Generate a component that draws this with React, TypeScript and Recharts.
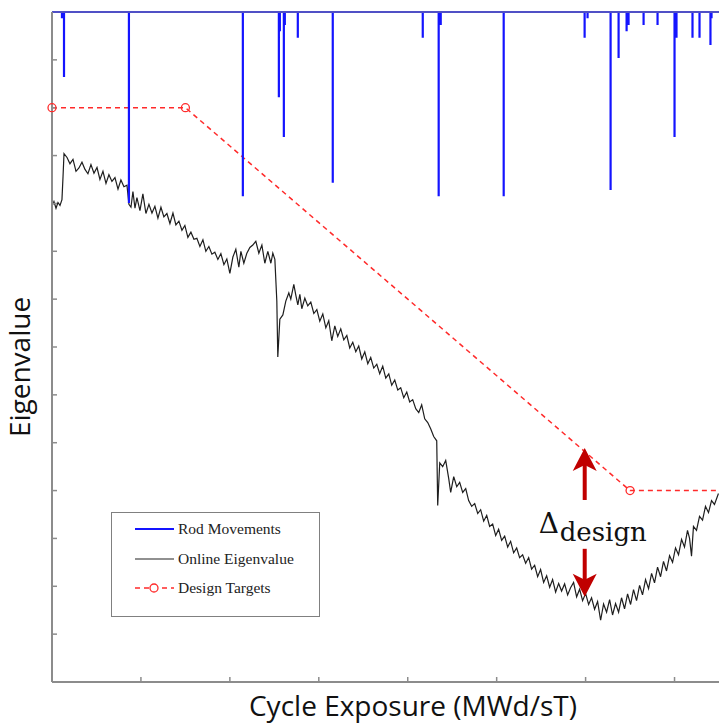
import React from 'react';
import { ComposedChart, Line, XAxis, YAxis, Legend, ReferenceLine, Label } from 'recharts';

// axis ticks (no labels in the original figure)
const exposureTicks = [1, 2, 3, 4, 5, 6, 7];
const eigenTicks = [1, 2, 3, 4, 5, 6, 7, 8, 9, 10, 11, 12, 13];

// design targets
const designExposure = [0, 1.5, 6.5, 7.5];
const designTarget = [12, 12, 4, 4];

// rod movements: position and how far each spike hangs down from the top
const rodTop = 14;
const rodExposure = [0.112, 0.135, 0.865, 2.146, 2.551, 2.562, 2.607, 2.618, 2.764, 3.157, 4.169, 4.348, 4.371, 5.079,
  5.989, 6.022, 6.281, 6.371, 6.461, 6.483, 6.652, 6.809, 7.0, 7.022, 7.202, 7.281, 7.404, 7.416];
const rodDepth = [13.87, 12.64, 10.01, 10.15, 12.22, 13.6, 11.39, 13.73, 13.46, 10.43, 13.46, 10.15, 13.73, 10.15,
  13.46, 13.87, 10.28, 13.04, 13.6, 13.73, 13.73, 13.73, 11.39, 13.46, 13.46, 13.46, 13.31, 13.87];

// online eigenvalue trace
const eigenExposure = [
  0, 0.022, 0.045, 0.067, 0.09, 0.112, 0.124, 0.135, 0.169, 0.202, 0.236, 0.27, 0.303, 0.337, 0.371, 0.404, 0.438, 0.472,
  0.506, 0.539, 0.573, 0.607, 0.64, 0.674, 0.708, 0.742, 0.775, 0.809, 0.843, 0.865, 0.888, 0.91, 0.933, 0.955, 0.989,
  1.022, 1.056, 1.09, 1.124, 1.157, 1.191, 1.225, 1.258, 1.292, 1.326, 1.36, 1.393, 1.427, 1.461, 1.494, 1.528, 1.562,
  1.596, 1.629, 1.663, 1.697, 1.73, 1.764, 1.798, 1.831, 1.865, 1.899, 1.933, 1.966, 2.0, 2.034, 2.067, 2.101, 2.124,
  2.157, 2.191, 2.225, 2.258, 2.292, 2.326, 2.36, 2.393, 2.427, 2.461, 2.483, 2.506, 2.528, 2.539, 2.562, 2.596, 2.629,
  2.663, 2.685, 2.719, 2.742, 2.764, 2.787, 2.809, 2.843, 2.876, 2.91, 2.944, 2.978, 3.011, 3.045, 3.079, 3.112, 3.146,
  3.18, 3.213, 3.247, 3.281, 3.315, 3.348, 3.382, 3.416, 3.449, 3.483, 3.517, 3.551, 3.584, 3.618, 3.652, 3.685, 3.719,
  3.753, 3.787, 3.82, 3.854, 3.888, 3.921, 3.955, 3.989, 4.022, 4.056, 4.09, 4.124, 4.157, 4.191, 4.225, 4.258, 4.292,
  4.326, 4.337, 4.36, 4.393, 4.427, 4.461, 4.483, 4.517, 4.551, 4.584, 4.618, 4.652, 4.685, 4.719, 4.753, 4.787, 4.82,
  4.854, 4.888, 4.921, 4.955, 4.989, 5.022, 5.056, 5.09, 5.124, 5.157, 5.191, 5.225, 5.258, 5.292, 5.326, 5.36, 5.393,
  5.427, 5.461, 5.494, 5.528, 5.562, 5.596, 5.629, 5.663, 5.697, 5.73, 5.764, 5.798, 5.831, 5.865, 5.899, 5.933, 5.966,
  6.0, 6.034, 6.067, 6.101, 6.135, 6.169, 6.202, 6.236, 6.27, 6.303, 6.337, 6.371, 6.404, 6.438, 6.472, 6.506, 6.539,
  6.573, 6.607, 6.64, 6.674, 6.708, 6.742, 6.775, 6.809, 6.843, 6.876, 6.91, 6.944, 6.978, 7.011, 7.045, 7.079, 7.112,
  7.146, 7.169, 7.191, 7.213, 7.247, 7.281, 7.315, 7.348, 7.382, 7.416, 7.449, 7.494,
];
const eigenValue = [
  9.94, 10.04, 9.9, 10.02, 9.96, 10.08, 10.56, 11.04, 10.96, 10.83, 10.92, 10.67, 10.74, 10.86, 10.71, 10.62, 10.81, 10.63,
  10.75, 10.5, 10.67, 10.42, 10.6, 10.46, 10.54, 10.3, 10.49, 10.35, 10.38, 9.98, 9.92, 10.25, 9.9, 10.12, 9.85,
  10.2, 9.79, 9.98, 9.8, 9.94, 9.69, 9.92, 9.72, 9.79, 9.58, 9.8, 9.55, 9.63, 9.44, 9.54, 9.29, 9.4,
  9.25, 9.27, 9.1, 9.24, 9.0, 9.1, 8.94, 8.98, 8.83, 8.95, 8.72, 8.84, 8.54, 8.88, 9.04, 8.67, 9.0,
  8.75, 8.96, 9.08, 9.13, 9.21, 8.96, 9.13, 8.75, 9.0, 8.75, 8.96, 8.83, 7.96, 6.79, 7.58, 7.67, 7.96,
  8.13, 8.0, 8.31, 8.08, 7.88, 8.1, 7.8, 8.02, 7.86, 7.94, 7.7, 7.78, 7.54, 7.69, 7.4, 7.55, 7.13,
  7.44, 7.22, 7.38, 7.15, 7.24, 6.98, 7.1, 6.9, 7.02, 6.75, 6.9, 6.65, 6.78, 6.56, 6.64, 6.44, 6.6,
  6.35, 6.44, 6.2, 6.31, 6.1, 6.15, 5.94, 6.06, 5.85, 5.9, 5.71, 5.63, 5.79, 5.5, 5.42, 5.29, 5.13,
  5.04, 3.69, 4.58, 4.5, 4.63, 4.25, 3.96, 4.29, 4.08, 4.17, 3.96, 4.04, 3.79, 3.67, 3.73, 3.52, 3.6,
  3.36, 3.48, 3.25, 3.3, 3.06, 3.19, 2.96, 3.05, 2.82, 2.94, 2.7, 2.8, 2.6, 2.66, 2.48, 2.6, 2.36,
  2.44, 2.2, 2.35, 2.08, 2.22, 1.98, 2.14, 1.88, 2.06, 1.9, 2.05, 1.82, 1.97, 2.08, 1.78, 1.94, 1.7,
  1.85, 1.62, 1.76, 1.52, 1.68, 1.29, 1.63, 1.46, 1.72, 1.4, 1.64, 1.46, 1.76, 1.53, 1.84, 1.62, 1.93,
  1.7, 2.02, 1.82, 2.14, 1.95, 2.27, 2.07, 2.4, 2.2, 2.52, 2.32, 2.64, 2.5, 2.8, 2.66, 2.98, 2.82,
  3.17, 3.0, 2.63, 3.25, 3.17, 3.46, 3.38, 3.67, 3.54, 3.79, 3.71, 3.94,
];

// delta annotation anchors
const deltaExposure = 5.99;
const deltaTop = 4.89;
const deltaBottom = 1.78;

const legendLabels = ['Rod Movements', 'Online Eigenvalue', 'Design Targets'];

const eigenData = eigenExposure.map((x, i) => ({ x, y: eigenValue[i] }));
const designData = designExposure.map((x, i) => ({ x, y: designTarget[i] }));
const rodData = [{ x: 0, y: rodTop }];
rodExposure.forEach((x, i) => {
  rodData.push({ x, y: rodTop }, { x, y: rodDepth[i] }, { x, y: rodTop });
});
rodData.push({ x: 7.5, y: rodTop });

const axisGrey = '#8c8c8c';
const designRed = '#ff2a2a';
const arrowRed = '#c00000';

// ticks are drawn but have no labels
const noTickLabel = () => <g />;

const renderDelta = (p: any) => {
  const { x1, y1, y2 } = p;
  const mid = (y1 + y2) / 2;
  return (
    <g>
      <rect x={x1 - 2} y={y1 + 14} width={4} height={38} fill={arrowRed} />
      <path d={`M${x1},${y1} L${x1 + 12},${y1 + 23} L${x1},${y1 + 17} L${x1 - 12},${y1 + 23} Z`} fill={arrowRed} />
      <rect x={x1 - 2} y={y2 - 48} width={4} height={34} fill={arrowRed} />
      <path d={`M${x1},${y2} L${x1 + 12},${y2 - 23} L${x1},${y2 - 17} L${x1 - 12},${y2 - 23} Z`} fill={arrowRed} />
      <text x={x1 - 46} y={mid + 11} fontFamily="DejaVu Serif" fontSize={28} fill="#111">Δ</text>
      <text x={x1 - 25} y={mid + 19} fontFamily="DejaVu Serif" fontSize={26} fill="#111">design</text>
    </g>
  );
};

const designDot = (props: any) => {
  const { cx, cy, index } = props;
  if (index === designExposure.length - 1) return <g key={`d${index}`} />;
  return <circle key={`d${index}`} cx={cx} cy={cy} r={4} fill="none" stroke={designRed} strokeWidth={1.3} />;
};

const LegendSample = ({ i }: { i: number }) => (
  <svg width={42} height={20} style={{ position: 'absolute', left: 22, top: 0 }}>
    {i === 0 && <line x1={1} x2={40} y1={10} y2={10} stroke="#1414ff" strokeWidth={2} />}
    {i === 1 && <line x1={1} x2={40} y1={10} y2={10} stroke="#222" strokeWidth={1.2} />}
    {i === 2 && (
      <g>
        <line x1={1} x2={40} y1={10} y2={10} stroke={designRed} strokeWidth={1.3} strokeDasharray="5 4" />
        <circle cx={20} cy={10} r={4} fill="#fff" stroke={designRed} strokeWidth={1.3} />
      </g>
    )}
  </svg>
);

const LegendBox = () => (
  <div
    style={{
      position: 'relative',
      boxSizing: 'border-box',
      width: 209,
      height: 105,
      border: '1.5px solid #808080',
      background: '#fff',
      fontFamily: '"Liberation Serif", serif',
      fontSize: 15.5,
      color: '#222',
    }}
  >
    {legendLabels.map((label, i) => (
      <div key={label} style={{ position: 'absolute', left: 0, top: 6 + i * 29.5, height: 20, width: '100%' }}>
        <LegendSample i={i} />
        <span style={{ position: 'absolute', left: 66, top: 0, lineHeight: '20px', whiteSpace: 'nowrap' }}>{label}</span>
      </div>
    ))}
  </div>
);

export default function App() {
  return (
    <div style={{ position: 'absolute', left: 0, top: 0, width: 719, height: 724, background: '#fff' }}>
      <ComposedChart width={719} height={724} margin={{ top: 12, right: 0, bottom: 42, left: 52 }}>
        <XAxis
          dataKey="x"
          type="number"
          domain={[0, 7.5]}
          ticks={exposureTicks}
          tick={noTickLabel}
          mirror
          tickSize={5}
          axisLine={{ stroke: axisGrey, strokeWidth: 2 }}
          tickLine={{ stroke: axisGrey, strokeWidth: 1.5 }}
        >
          <Label
            content={() => (
              <text x={413} y={716} textAnchor="middle" fontFamily="'Open Sans'" fontSize={28} fill="#111">
                Cycle Exposure (MWd/sT)
              </text>
            )}
          />
        </XAxis>
        <XAxis
          xAxisId="top"
          orientation="top"
          dataKey="x"
          type="number"
          domain={[0, 7.5]}
          ticks={exposureTicks}
          tick={noTickLabel}
          mirror
          tickSize={5}
          axisLine={{ stroke: axisGrey }}
          tickLine={{ stroke: axisGrey, strokeWidth: 1.5 }}
        />
        <YAxis
          type="number"
          domain={[0, 14]}
          ticks={eigenTicks}
          tick={noTickLabel}
          mirror
          tickSize={5}
          axisLine={{ stroke: axisGrey, strokeWidth: 2 }}
          tickLine={{ stroke: axisGrey, strokeWidth: 1.5 }}
        >
          <Label
            content={() => (
              <text
                x={30}
                y={367}
                textAnchor="middle"
                transform="rotate(-90, 30, 367)"
                fontFamily="'Open Sans'"
                fontSize={28}
                fill="#111"
              >
                Eigenvalue
              </text>
            )}
          />
        </YAxis>
        <Line
          data={eigenData}
          dataKey="y"
          type="linear"
          stroke="#1e1e1e"
          strokeWidth={1.2}
          dot={false}
          isAnimationActive={false}
        />
        <Line
          data={designData}
          dataKey="y"
          type="linear"
          stroke={designRed}
          strokeWidth={1.5}
          strokeDasharray="5 4"
          dot={designDot}
          isAnimationActive={false}
        />
        <Line
          data={rodData}
          dataKey="y"
          type="linear"
          stroke="#1414ff"
          strokeWidth={2.2}
          dot={false}
          isAnimationActive={false}
        />
        <ReferenceLine
          segment={[
            { x: deltaExposure, y: deltaTop },
            { x: deltaExposure, y: deltaBottom },
          ]}
          shape={renderDelta}
        />
        <Legend
          layout="horizontal"
          verticalAlign="middle"
          align="center"
          content={() => <LegendBox />}
          wrapperStyle={{ left: 111, top: 512, width: 209, height: 105 }}
        />
      </ComposedChart>
    </div>
  );
}
